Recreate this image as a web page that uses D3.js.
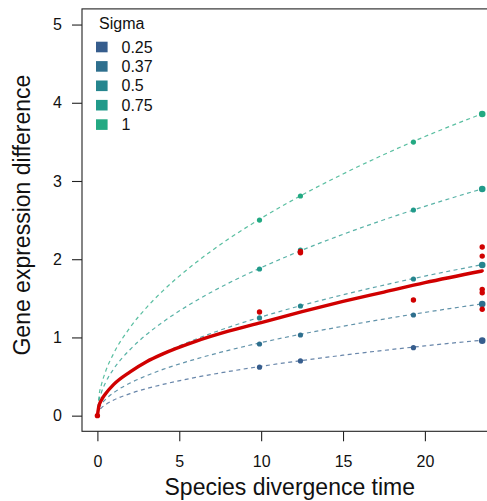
<!DOCTYPE html>
<html>
<head>
<meta charset="utf-8">
<script src="https://cdn.jsdelivr.net/npm/d3@7"></script>
<style>
  html, body { margin: 0; padding: 0; background: #ffffff; }
  svg { display: block; font-family: "Liberation Sans", Arial, sans-serif; }
</style>
</head>
<body>
<svg id="chart" width="487" height="501"></svg>
<script>
// ---------------- data ----------------
const sigmaLabels = ["0.25", "0.37", "0.5", "0.75", "1"];
const sigmaColors = ["#365d8d", "#2e6f8e", "#25858e", "#219a8a", "#23a982"];

const curveTimes = [0, 0.1, 0.25, 0.5, 1, 2, 3, 4, 6, 8, 10, 12.5, 15, 17.5, 20, 23.5];
const curve025 = [0, 0.063, 0.100, 0.141, 0.200, 0.282, 0.346, 0.399, 0.489, 0.564, 0.631, 0.705, 0.773, 0.835, 0.892, 0.965];
const curve037 = [0, 0.093, 0.148, 0.209, 0.295, 0.417, 0.511, 0.591, 0.723, 0.835, 0.934, 1.044, 1.143, 1.235, 1.320, 1.430];
const curve05  = [0, 0.126, 0.200, 0.282, 0.399, 0.564, 0.691, 0.798, 0.977, 1.129, 1.262, 1.411, 1.545, 1.669, 1.784, 1.930];
const curve075 = [0, 0.189, 0.299, 0.423, 0.599, 0.846, 1.037, 1.197, 1.466, 1.693, 1.892, 2.116, 2.318, 2.504, 2.676, 2.900];
const curve1   = [0, 0.252, 0.399, 0.564, 0.798, 1.128, 1.382, 1.596, 1.954, 2.257, 2.523, 2.821, 3.090, 3.338, 3.568, 3.860];

// sampled points on each sigma curve
const pointTimes = [9.9, 12.4, 19.3, 23.5];
const points025 = [0.62, 0.70, 0.869, 0.959];
const points037 = [0.916, 1.031, 1.287, 1.428];
const points05  = [1.249, 1.402, 1.747, 1.926];
const points075 = [1.875, 2.118, 2.629, 2.897];
const points1   = [2.50, 2.808, 3.498, 3.856];

// observed (red) points
const obsTimes  = [0, 9.9, 12.4, 12.4, 19.3, 23.5, 23.5, 23.5, 23.5, 23.5];
const obsValues = [0, 1.325, 2.083, 2.10, 1.479, 2.156, 2.04, 1.615, 1.572, 1.36];

// fitted (red) curve
const fitTimes  = [0, 0.1, 0.25, 0.5, 1, 2, 3, 4, 6, 8, 10, 12.5, 15, 17.5, 20, 23.5];
const fitValues = [0, 0.13, 0.20, 0.28, 0.40, 0.56, 0.69, 0.79, 0.95, 1.08, 1.19, 1.33, 1.46, 1.58, 1.70, 1.85];

const xTicks = [0, 5, 10, 15, 20];
const yTicks = [0, 1, 2, 3, 4, 5];

const curves = [curve025, curve037, curve05, curve075, curve1];
const pointSets = [points025, points037, points05, points075, points1];

// ---------------- layout ----------------
const svg = d3.select("#chart");
const padL = 82, padR = 497.6, padT = 8.9, padB = 431.3;
const x = d3.scaleLinear().domain([-0.94, 24.44]).range([padL, padR]);
const y = d3.scaleLinear().domain([-0.2, 5.2]).range([padB, padT]);
const axisColor = "#222";

// box
svg.append("rect")
  .attr("x", padL).attr("y", padT)
  .attr("width", padR - padL).attr("height", padB - padT)
  .attr("fill", "none").attr("stroke", axisColor).attr("stroke-width", 1.1);

// axes
const xAxis = d3.axisBottom(x).tickValues(xTicks).tickSize(10).tickPadding(14).tickFormat(d3.format("d"));
const gx = svg.append("g").attr("transform", `translate(0,${padB})`).call(xAxis);
gx.select(".domain").remove();
gx.selectAll("line").attr("stroke", axisColor).attr("stroke-width", 1.1);
gx.selectAll("text").attr("font-size", 16).attr("fill", "#111").attr("font-family", "Liberation Sans, Arial, sans-serif");

const yAxis = d3.axisLeft(y).tickValues(yTicks).tickSize(10).tickPadding(10).tickFormat(d3.format("d"));
const gy = svg.append("g").attr("transform", `translate(${padL},0)`).call(yAxis);
gy.select(".domain").remove();
gy.selectAll("line").attr("stroke", axisColor).attr("stroke-width", 1.1);
gy.selectAll("text").attr("font-size", 16).attr("fill", "#111").attr("font-family", "Liberation Sans, Arial, sans-serif");

// axis titles
svg.append("text")
  .attr("x", (padL + padR) / 2).attr("y", 495)
  .attr("text-anchor", "middle").attr("font-size", 23).attr("fill", "#111")
  .text("Species divergence time");
svg.append("text")
  .attr("transform", `translate(30,${(padT + padB) / 2 - 5}) rotate(-90)`)
  .attr("text-anchor", "middle").attr("font-size", 23).attr("fill", "#111")
  .text("Gene expression difference");

// dashed sigma curves
const line = d3.line().x(d => x(d[0])).y(d => y(d[1])).curve(d3.curveMonotoneX);
curves.forEach((vals, i) => {
  const data = curveTimes.map((t, j) => [t, vals[j]]);
  svg.append("path")
    .attr("d", line(data))
    .attr("fill", "none")
    .attr("stroke", sigmaColors[i])
    .attr("stroke-opacity", 0.75)
    .attr("stroke-width", 1.2)
    .attr("stroke-dasharray", "4,3.5");
});

// sigma points
pointSets.forEach((vals, i) => {
  svg.append("g").selectAll("circle")
    .data(pointTimes.map((t, j) => [t, vals[j]]))
    .join("circle")
    .attr("cx", d => x(d[0])).attr("cy", d => y(d[1]))
    .attr("r", (d, j) => j === pointTimes.length - 1 ? 3.3 : 2.6)
    .attr("fill", sigmaColors[i]);
});

// fitted red curve
const fitData = fitTimes.map((t, j) => [t, fitValues[j]]);
svg.append("path")
  .attr("d", line(fitData))
  .attr("fill", "none")
  .attr("stroke", "#d00000")
  .attr("stroke-width", 3.4)
  .attr("stroke-linecap", "round");

// observed red points
svg.append("g").selectAll("circle")
  .data(obsTimes.map((t, j) => [t, obsValues[j]]))
  .join("circle")
  .attr("cx", d => x(d[0])).attr("cy", d => y(d[1]))
  .attr("r", 2.7)
  .attr("fill", "#d00000");

// legend
const legend = svg.append("g");
legend.append("text")
  .attr("x", 99).attr("y", 28.5)
  .attr("font-size", 16).attr("fill", "#111")
  .text("Sigma");
sigmaLabels.forEach((lab, i) => {
  const cy = 47 + i * 19.4;
  legend.append("rect")
    .attr("x", 96).attr("y", cy - 5.3)
    .attr("width", 11.6).attr("height", 10.6)
    .attr("fill", sigmaColors[i]);
  legend.append("text")
    .attr("x", 121.5).attr("y", cy + 5.6)
    .attr("font-size", 16).attr("fill", "#111")
    .text(lab);
});
</script>
</body>
</html>
